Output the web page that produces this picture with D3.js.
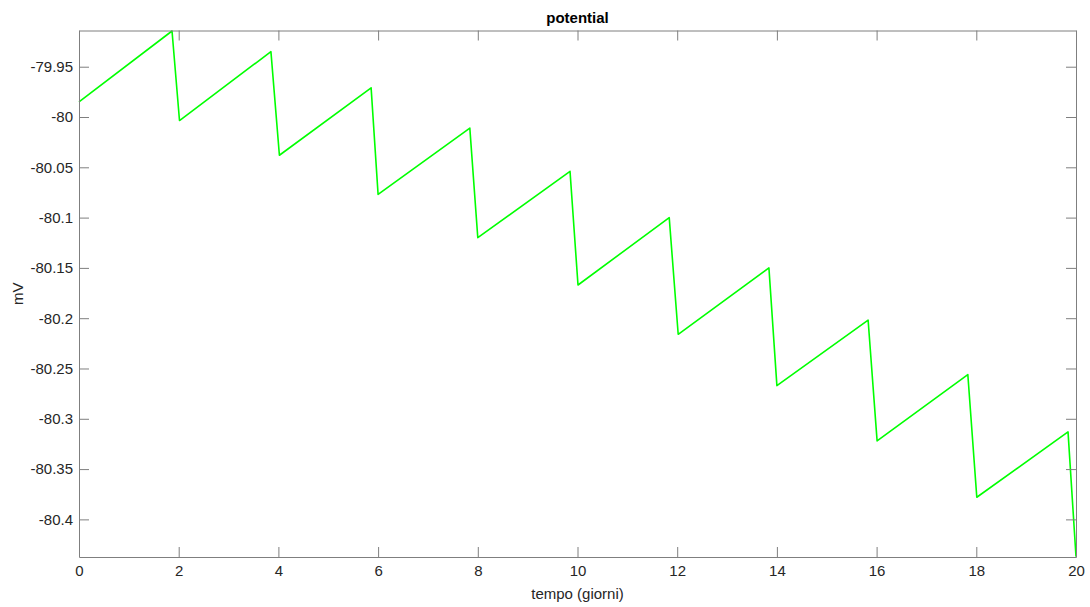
<!DOCTYPE html>
<html><head><meta charset="utf-8">
<script src="https://cdn.jsdelivr.net/npm/d3@7"></script>
<style>body{margin:0;background:#fff;} svg{display:block;}</style>
</head><body>
<script>
const timeDays = [0, 1.866, 2.016, 3.85, 4.02, 5.86, 6.0, 7.84, 8.0, 9.85, 10.01, 11.84, 12.02, 13.84, 14.0, 15.83, 16.01, 17.83, 18.01, 19.84, 20];
const potential = [-79.985, -79.9145, -80.0035, -79.935, -80.038, -79.971, -80.077, -80.011, -80.120, -80.054, -80.167, -80.100, -80.216, -80.150, -80.267, -80.202, -80.322, -80.256, -80.378, -80.313, -80.437];
const xTicks = [0, 2, 4, 6, 8, 10, 12, 14, 16, 18, 20];
const yTicks = [-79.95, -80, -80.05, -80.1, -80.15, -80.2, -80.25, -80.3, -80.35, -80.4];
const yDomain = [-80.4374, -79.914];

const W = 1090, H = 607;
const L = 79, R = 1076, T = 30.5, B = 557;
const svg = d3.select("body").append("svg").attr("width", W).attr("height", H)
  .style("font-family", "'Liberation Sans', Arial, sans-serif");

const x = d3.scaleLinear().domain([0, 20]).range([L, R]);
const y = d3.scaleLinear().domain(yDomain).range([B, T]);
const axisColor = "#7f7f7f", textColor = "#262626";

// line
svg.append("path")
  .datum(timeDays.map((t, i) => [t, potential[i]]))
  .attr("fill", "none").attr("stroke", "#00ff00").attr("stroke-width", 1.6)
  .attr("stroke-linejoin", "round")
  .attr("d", d3.line().x(d => x(d[0])).y(d => y(d[1])));

function styleAxis(g) {
  g.select(".domain").attr("stroke", axisColor);
  g.selectAll(".tick line").attr("stroke", axisColor);
  g.selectAll(".tick text").attr("fill", textColor).style("font-size", "15px")
   .style("font-family", "'Liberation Sans', Arial, sans-serif");
}
const fmt = d => String(+d.toFixed(2));
// bottom
svg.append("g").attr("transform", `translate(0,${B})`)
  .call(d3.axisBottom(x).tickValues(xTicks).tickSizeInner(-10).tickSizeOuter(0).tickPadding(8).tickFormat(fmt))
  .call(styleAxis);
// top
svg.append("g").attr("transform", `translate(0,${T})`)
  .call(d3.axisTop(x).tickValues(xTicks).tickSizeInner(-10).tickSizeOuter(0).tickFormat(""))
  .call(styleAxis);
// left
svg.append("g").attr("transform", `translate(${L},0)`)
  .call(d3.axisLeft(y).tickValues(yTicks).tickSizeInner(-10).tickSizeOuter(0).tickPadding(6).tickFormat(fmt))
  .call(styleAxis);
// right
svg.append("g").attr("transform", `translate(${R},0)`)
  .call(d3.axisRight(y).tickValues(yTicks).tickSizeInner(-10).tickSizeOuter(0).tickFormat(""))
  .call(styleAxis);

svg.append("text").attr("x", (L + R) / 2).attr("y", 23).attr("text-anchor", "middle")
  .style("font-size", "15px").style("font-weight", "bold").attr("fill", "#000").text("potential");
svg.append("text").attr("x", (L + R) / 2).attr("y", 599).attr("text-anchor", "middle")
  .style("font-size", "15px").attr("fill", textColor).text("tempo (giorni)");
svg.append("text").attr("transform", `translate(23,${(T + B) / 2}) rotate(-90)`).attr("text-anchor", "middle")
  .style("font-size", "15px").attr("fill", textColor).text("mV");
</script>
</body></html>
